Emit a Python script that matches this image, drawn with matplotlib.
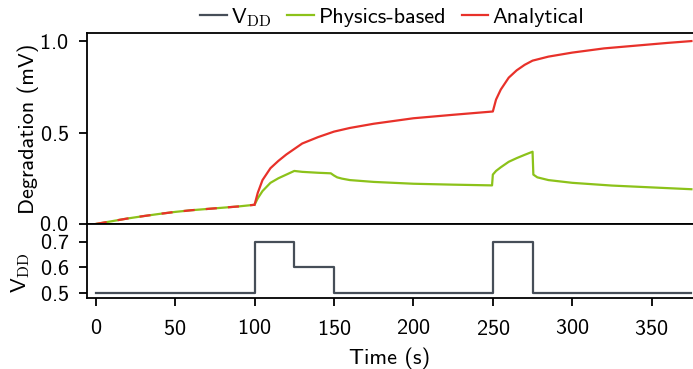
import matplotlib
matplotlib.use("Agg")
import matplotlib.pyplot as plt

plt.rcParams['font.family'] = ['cmss10', 'DejaVu Sans']
plt.rcParams['mathtext.fontset'] = 'cm'
plt.rcParams['axes.formatter.use_mathtext'] = True
plt.rcParams['font.size'] = 16

# time stamps (s) and degradation (mV)
t_red = [0, 10, 20, 30, 40, 50, 60, 70, 80, 90, 100]
red_early = [0.0, 0.015, 0.03, 0.043, 0.055, 0.066, 0.075, 0.082, 0.089, 0.096, 0.105]

t_red_late = [100, 102, 105, 110, 115, 120, 125, 130, 140, 150, 160, 175, 200, 225, 250,
              252, 255, 260, 265, 270, 275, 285, 300, 320, 340, 360, 375]
red_late = [0.105, 0.17, 0.24, 0.305, 0.345, 0.38, 0.41, 0.44, 0.475, 0.505, 0.525, 0.548, 0.578, 0.597, 0.615,
            0.68, 0.735, 0.8, 0.84, 0.87, 0.893, 0.915, 0.937, 0.96, 0.975, 0.99, 1.0]

t_green = [0, 10, 20, 30, 40, 50, 60, 70, 80, 90, 100, 102, 105, 110, 115, 120, 125,
           130, 140, 148, 150, 152, 155, 160, 175, 200, 225, 249.5,
           250, 252, 255, 260, 265, 270, 275, 275.5, 278, 285, 300, 325, 350, 375]
green = [0.0, 0.015, 0.03, 0.043, 0.055, 0.066, 0.075, 0.082, 0.089, 0.096, 0.105, 0.14, 0.18, 0.225, 0.25, 0.27, 0.29,
         0.285, 0.28, 0.277, 0.265, 0.255, 0.248, 0.24, 0.23, 0.22, 0.215, 0.211,
         0.27, 0.29, 0.31, 0.34, 0.36, 0.378, 0.395, 0.27, 0.255, 0.24, 0.225, 0.21, 0.2, 0.19]

# supply voltage steps
t_vdd = [0, 100, 100, 125, 125, 150, 150, 250, 250, 275, 275, 375]
vdd = [0.5, 0.5, 0.7, 0.7, 0.6, 0.6, 0.5, 0.5, 0.7, 0.7, 0.5, 0.5]

c_vdd = '#464e58'
c_green = '#8cc21a'
c_red = '#e8312a'

fig = plt.figure(figsize=(6.93, 3.69), dpi=100)
ax1 = fig.add_axes([0.1255, 0.393, 0.8745, 0.5175])
ax2 = fig.add_axes([0.1255, 0.1924, 0.8745, 0.2006], sharex=ax1)

ax1.plot(t_green, green, color=c_green, lw=1.6, label='Physics-based')
ax1.plot(t_red, red_early, color=c_red, lw=1.6, dashes=(5, 5))
ax1.plot(t_red_late, red_late, color=c_red, lw=1.6, label='Analytical')
ax2.plot(t_vdd, vdd, color=c_vdd, lw=1.6)

ax1.set_ylim(0, 1.044)
ax1.set_yticks([0.0, 0.5, 1.0])
ax1.set_ylabel('Degradation (mV)')
ax1.set_xlim(-5.5, 376)
ax1.tick_params(axis='x', bottom=False, labelbottom=False)
ax1.spines['right'].set_visible(False)

ax2.set_ylim(0.48, 0.77)
ax2.set_yticks([0.5, 0.6, 0.7])
ax2.set_ylabel(r'V$_\mathrm{DD}$')
ax2.set_xticks([0, 50, 100, 150, 200, 250, 300, 350])
ax2.set_xlabel('Time (s)', labelpad=6)
ax2.spines['right'].set_visible(False)

for ax in (ax1, ax2):
    for s in ax.spines.values():
        s.set_linewidth(1.3)
    ax.tick_params(width=1.3, length=6, pad=7)
ax2.tick_params(axis='x', pad=9)
ax1.yaxis.set_label_coords(-0.079, 0.5)
ax2.yaxis.set_label_coords(-0.09, 0.34)

h_vdd, = ax2.plot([], [], color=c_vdd, lw=1.6, label=r'V$_\mathrm{DD}$')
hs = [h_vdd] + ax1.get_legend_handles_labels()[0]
fig.legend(hs, [h.get_label() for h in hs], loc='center', bbox_to_anchor=(0.566, 0.953),
           ncol=3, frameon=False, handlelength=1.2, handletextpad=0.2, columnspacing=0.7,
           borderaxespad=0)

fig.savefig('out.png', dpi=100)
